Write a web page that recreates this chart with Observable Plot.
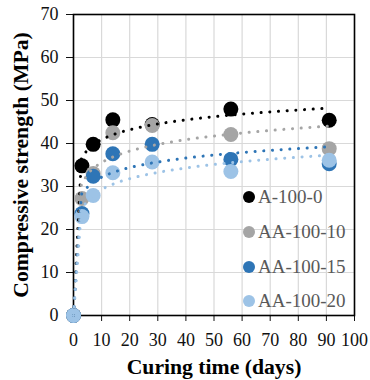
<!DOCTYPE html>
<html><head><meta charset="utf-8">
<script src="https://cdn.jsdelivr.net/npm/d3@7"></script>
<script src="https://cdn.jsdelivr.net/npm/@observablehq/plot@0.6"></script>
<style>
body{margin:0;background:#fff;}
#wrap{position:relative;width:370px;height:380px;}
.legend{position:absolute;left:243px;top:180px;font-family:"Liberation Serif","Times New Roman",Times,serif;font-size:19px;color:#595959;}
.item{display:flex;align-items:center;height:34.7px;white-space:nowrap;}
.sw{width:12px;height:12px;border-radius:50%;margin-right:3px;flex:none;}
</style></head><body><div id="wrap"></div>
<script>
const days = [0, 3, 7, 14, 28, 56, 91];
const seriesNames = ["A-100-0", "AA-100-10", "AA-100-15", "AA-100-20"];
const colors = ["#000000", "#a5a5a5", "#2e75b6", "#9dc3e6"];
const a100_0   = [0, 34.8, 39.8, 45.5, 44.4, 48.0, 45.4];
const aa100_10 = [0, 27.2, 33.0, 42.5, 44.2, 42.1, 38.8];
const aa100_15 = [0, 23.7, 32.4, 37.6, 39.8, 36.3, 35.3];
const aa100_20 = [0, 23.0, 27.9, 33.2, 35.7, 33.5, 36.1];
const xTicks = d3.range(0, 101, 10);
const yTicks = d3.range(0, 71, 10);
const xLabel = "Curing time (days)";
const yLabel = "Compressive strength (MPa)";
const serif = "'Liberation Serif', 'Times New Roman', Times, serif";

const allValues = [a100_0, aa100_10, aa100_15, aa100_20];
const rows = [];
allValues.forEach((vals, i) => vals.forEach((v, j) => rows.push({series: seriesNames[i], day: days[j], value: v})));

// logarithmic trendlines (spreadsheet-style), fitted on the points with day > 0,
// drawn as a polyline sampled at regular steps like the spreadsheet does
const trend = [];
allValues.forEach((vals, i) => {
  const pts = days.map((d, j) => [d, vals[j]]).filter(p => p[0] > 0);
  const lx = pts.map(p => Math.log(p[0])), ys = pts.map(p => p[1]);
  const mx = d3.mean(lx), my = d3.mean(ys);
  const a = d3.sum(lx.map((v, k) => (v - mx) * (ys[k] - my))) / d3.sum(lx.map(v => (v - mx) ** 2));
  const b = my - a * mx;
  const xmax = d3.max(days), n = 32;
  for (let k = 0; k <= n; k++) {
    const x = xmax * k / n;
    trend.push({series: seriesNames[i], day: x, value: Math.max(0, a * Math.log(x) + b)});
  }
});

const plot = Plot.plot({
  width: 370, height: 380,
  marginLeft: 73, marginRight: 16, marginTop: 14, marginBottom: 65,
  style: {fontFamily: serif, fontSize: "18px", color: "#111", background: "white", overflow: "visible"},
  x: {domain: [0, 100]},
  y: {domain: [0, 70]},
  color: {domain: seriesNames, range: colors},
  marks: [
    Plot.gridX(xTicks, {stroke: "#d9d9d9", strokeOpacity: 1, strokeWidth: 1.2}),
    Plot.gridY(yTicks, {stroke: "#d9d9d9", strokeOpacity: 1, strokeWidth: 1.2}),
    Plot.axisX(xTicks, {tickSize: 6, tickPadding: 12, label: null, fontSize: 18, fontFamily: serif, tickFormat: d => d}),
    Plot.axisY(yTicks, {tickSize: 7, tickPadding: 8, label: null, fontSize: 18, fontFamily: serif, tickFormat: d => d}),
    Plot.frame({stroke: "black", strokeWidth: 1.6}),
    Plot.dot(rows, {x: "day", y: "value", fill: "series", r: 7.5}),
    Plot.line(trend, {x: "day", y: "value", z: "series", stroke: "series", strokeWidth: 3, strokeDasharray: "0.1 8.6", strokeLinecap: "round", curve: "linear"}),
    Plot.text([xLabel], {text: d => d, frameAnchor: "bottom", lineAnchor: "bottom", textAnchor: "middle", dy: 58, fontWeight: "bold", fontSize: 21.7, fontFamily: serif, fill: "black"}),
    Plot.text([yLabel], {text: d => d, frameAnchor: "left", rotate: -90, dx: -52, textAnchor: "middle", lineAnchor: "middle", fontWeight: "bold", fontSize: 21.7, fontFamily: serif, fill: "black"})
  ]
});
const wrap = document.getElementById("wrap");
wrap.appendChild(plot);
const leg = document.createElement("div");
leg.className = "legend";
seriesNames.forEach((s, i) => {
  const it = document.createElement("div"); it.className = "item";
  const sw = document.createElement("span"); sw.className = "sw"; sw.style.background = colors[i];
  const t = document.createElement("span"); t.textContent = s;
  it.appendChild(sw); it.appendChild(t); leg.appendChild(it);
});
wrap.appendChild(leg);
</script></body></html>
